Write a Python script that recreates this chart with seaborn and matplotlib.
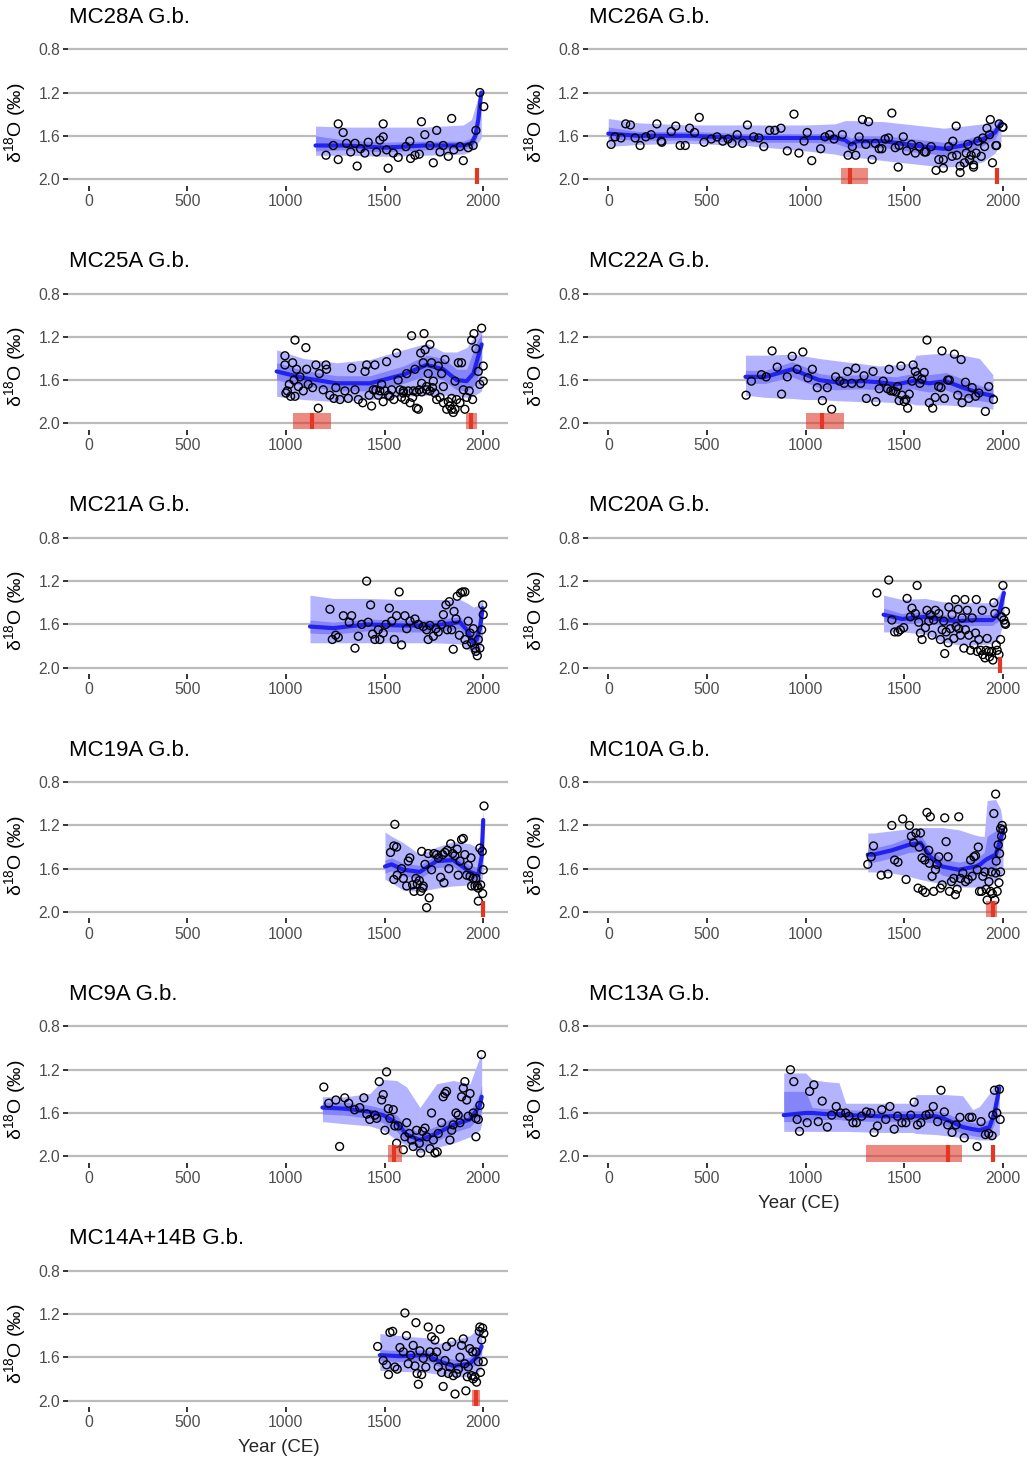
import matplotlib
matplotlib.use("Agg")
import matplotlib.pyplot as plt
import seaborn as sns
import pandas as pd

# ---------------- data ----------------
# MC28A
mc28a_year = [1203, 1240, 1265, 1265, 1290, 1307, 1328, 1350, 1361, 1378, 1400, 1417, 1459, 1476, 1493, 1493,
              1510, 1518, 1544, 1569, 1608, 1628, 1632, 1654, 1676, 1687, 1704, 1730, 1747, 1764, 1781, 1797,
              1823, 1840, 1851, 1882, 1899, 1924, 1949, 1963, 1983, 2003]
mc28a_d18o = [1.78, 1.69, 1.49, 1.82, 1.57, 1.67, 1.75, 1.67, 1.88, 1.72, 1.76, 1.66, 1.75, 1.64, 1.61, 1.49,
              1.73, 1.90, 1.76, 1.80, 1.70, 1.65, 1.81, 1.78, 1.77, 1.47, 1.59, 1.69, 1.85, 1.55, 1.75, 1.69,
              1.79, 1.44, 1.73, 1.70, 1.83, 1.71, 1.69, 1.55, 1.20, 1.33]
mc28a_fit_year = [1150, 1300, 1500, 1700, 1900, 1940, 1960, 1975, 1990]
mc28a_fit = [1.69, 1.69, 1.71, 1.69, 1.69, 1.67, 1.60, 1.45, 1.20]
mc28a_outer_top = [1.51, 1.52, 1.52, 1.52, 1.50, 1.45, 1.33, 1.24, 1.18]
mc28a_outer_bot = [1.78, 1.78, 1.79, 1.78, 1.77, 1.74, 1.70, 1.66, 1.62]
mc28a_inner_top = [1.60, 1.64, 1.66, 1.65, 1.65, 1.62, 1.52, 1.36, 1.19]
mc28a_inner_bot = [1.74, 1.73, 1.75, 1.73, 1.72, 1.71, 1.66, 1.55, 1.30]
mc28a_age_lo = [1963]
mc28a_age_hi = [1977]
mc28a_age_mid = [1970]

# MC26A
mc26a_year = [14, 34, 64, 88, 112, 136, 161, 190, 217, 246, 268, 271, 319, 342, 364, 390, 412, 437, 461, 485,
              522, 551, 580, 607, 627, 653, 681, 705, 737, 763, 788, 817, 844, 875, 907, 941, 966, 992, 1008,
              1031, 1076, 1098, 1122, 1144, 1186, 1215, 1237, 1254, 1271, 1288, 1305, 1319, 1337, 1353, 1373,
              1386, 1403, 1420, 1437, 1454, 1469, 1474, 1495, 1512, 1537, 1556, 1576, 1602, 1610, 1636, 1661,
              1675, 1698, 1698, 1725, 1742, 1746, 1763, 1766, 1783, 1783, 1805, 1814, 1822, 1831, 1839, 1851,
              1851, 1864, 1873, 1890, 1898, 1907, 1919, 1932, 1936, 1947, 1964, 1968, 1981, 1998, 2000]
mc26a_d18o = [1.68, 1.61, 1.62, 1.49, 1.50, 1.62, 1.69, 1.61, 1.59, 1.49, 1.65, 1.66, 1.56, 1.51, 1.69, 1.69,
              1.53, 1.57, 1.43, 1.66, 1.63, 1.61, 1.65, 1.63, 1.67, 1.59, 1.67, 1.50, 1.61, 1.62, 1.70, 1.55,
              1.55, 1.53, 1.74, 1.40, 1.76, 1.65, 1.57, 1.83, 1.72, 1.61, 1.59, 1.63, 1.59, 1.78, 1.70, 1.78,
              1.61, 1.45, 1.68, 1.47, 1.82, 1.67, 1.72, 1.72, 1.63, 1.62, 1.39, 1.71, 1.89, 1.69, 1.61, 1.74,
              1.68, 1.76, 1.70, 1.75, 1.75, 1.70, 1.92, 1.82, 1.90, 1.82, 1.70, 1.79, 1.65, 1.51, 1.78, 1.94,
              1.88, 1.85, 1.76, 1.68, 1.82, 1.78, 1.89, 1.87, 1.76, 1.65, 1.79, 1.62, 1.70, 1.53, 1.59, 1.45,
              1.85, 1.69, 1.69, 1.49, 1.52, 1.52]
mc26a_fit_year = [0, 150, 400, 700, 1000, 1150, 1200, 1230, 1260, 1400, 1550, 1700, 1800, 1900, 1960, 1990]
mc26a_fit = [1.58, 1.60, 1.60, 1.62, 1.62, 1.62, 1.64, 1.68, 1.65, 1.65, 1.69, 1.72, 1.69, 1.63, 1.57, 1.48]
mc26a_outer_top = [1.44, 1.48, 1.50, 1.50, 1.50, 1.49, 1.46, 1.46, 1.46, 1.47, 1.50, 1.53, 1.51, 1.49, 1.46, 1.44]
mc26a_outer_bot = [1.70, 1.68, 1.67, 1.69, 1.74, 1.77, 1.79, 1.80, 1.80, 1.83, 1.86, 1.89, 1.88, 1.84, 1.76, 1.66]
mc26a_inner_top = [1.52, 1.56, 1.56, 1.58, 1.58, 1.58, 1.59, 1.62, 1.60, 1.60, 1.63, 1.66, 1.64, 1.58, 1.52, 1.45]
mc26a_inner_bot = [1.63, 1.64, 1.64, 1.66, 1.66, 1.67, 1.70, 1.73, 1.71, 1.71, 1.75, 1.78, 1.75, 1.69, 1.63, 1.52]
mc26a_age_lo = [1178, 1962]
mc26a_age_hi = [1315, 1976]
mc26a_age_mid = [1225, 1969]

# MC25A
mc25a_year = [995, 995, 1000, 1007, 1017, 1024, 1034, 1041, 1046, 1046, 1054, 1063, 1071, 1088, 1101, 1105,
              1113, 1135, 1152, 1164, 1169, 1189, 1203, 1206, 1223, 1243, 1253, 1274, 1299, 1316, 1333, 1350,
              1367, 1389, 1401, 1409, 1422, 1434, 1443, 1451, 1456, 1468, 1476, 1485, 1493, 1502, 1510, 1519,
              1527, 1536, 1547, 1561, 1569, 1578, 1586, 1595, 1595, 1603, 1612, 1620, 1629, 1637, 1642, 1646,
              1654, 1662, 1662, 1671, 1676, 1683, 1688, 1688, 1696, 1700, 1705, 1713, 1713, 1721, 1730, 1730,
              1738, 1743, 1747, 1755, 1764, 1772, 1781, 1789, 1798, 1798, 1806, 1815, 1823, 1831, 1840, 1840,
              1848, 1857, 1857, 1865, 1874, 1882, 1890, 1899, 1907, 1916, 1929, 1941, 1946, 1953, 1963, 1975,
              1983, 1992, 2000, 2000]
mc25a_d18o = [1.375, 1.46, 1.72, 1.70, 1.64, 1.75, 1.44, 1.60, 1.23, 1.75, 1.50, 1.66, 1.57, 1.70, 1.30, 1.50,
              1.64, 1.67, 1.46, 1.86, 1.54, 1.69, 1.46, 1.50, 1.74, 1.77, 1.67, 1.78, 1.70, 1.77, 1.49, 1.69,
              1.78, 1.81, 1.52, 1.46, 1.74, 1.84, 1.69, 1.46, 1.69, 1.74, 1.70, 1.64, 1.80, 1.70, 1.43, 1.74,
              1.75, 1.69, 1.78, 1.35, 1.60, 1.69, 1.76, 1.70, 1.72, 1.78, 1.54, 1.70, 1.81, 1.19, 1.76, 1.70,
              1.50, 1.86, 1.71, 1.87, 1.69, 1.35, 1.63, 1.71, 1.44, 1.17, 1.32, 1.66, 1.69, 1.54, 1.27, 1.70,
              1.44, 1.67, 1.61, 1.72, 1.78, 1.47, 1.76, 1.54, 1.66, 1.81, 1.41, 1.87, 1.80, 1.84, 1.77, 1.87,
              1.90, 1.61, 1.87, 1.78, 1.44, 1.81, 1.44, 1.69, 1.87, 1.76, 1.70, 1.23, 1.78, 1.17, 1.31, 1.52,
              1.64, 1.12, 1.47, 1.61]
mc25a_fit_year = [953, 1088, 1257, 1426, 1595, 1713, 1798, 1865, 1916, 1950, 1975, 1992]
mc25a_fit = [1.52, 1.58, 1.63, 1.63, 1.55, 1.46, 1.50, 1.60, 1.61, 1.54, 1.38, 1.27]
mc25a_outer_top = [1.32, 1.40, 1.44, 1.41, 1.32, 1.26, 1.34, 1.34, 1.30, 1.21, 1.16, 1.14]
mc25a_outer_bot = [1.75, 1.78, 1.80, 1.78, 1.75, 1.74, 1.74, 1.75, 1.76, 1.75, 1.72, 1.70]
mc25a_inner_top = [1.44, 1.51, 1.56, 1.56, 1.47, 1.37, 1.40, 1.50, 1.50, 1.33, 1.22, 1.17]
mc25a_inner_bot = [1.60, 1.65, 1.70, 1.70, 1.63, 1.56, 1.60, 1.69, 1.70, 1.66, 1.56, 1.40]
mc25a_age_lo = [1034, 1911]
mc25a_age_hi = [1228, 1966]
mc25a_age_mid = [1130, 1936]

# MC22A
mc22a_year = [698, 725, 776, 800, 830, 856, 878, 907, 932, 957, 986, 1012, 1034, 1059, 1085, 1110, 1132, 1152,
              1173, 1195, 1212, 1234, 1254, 1279, 1296, 1308, 1342, 1356, 1373, 1393, 1415, 1423, 1432, 1444,
              1457, 1466, 1474, 1483, 1488, 1500, 1508, 1517, 1525, 1539, 1545, 1556, 1567, 1579, 1589, 1601,
              1615, 1627, 1644, 1657, 1674, 1686, 1691, 1703, 1720, 1728, 1754, 1771, 1788, 1793, 1810, 1827,
              1844, 1861, 1878, 1911, 1928, 1952]
mc22a_d18o = [1.74, 1.61, 1.55, 1.57, 1.33, 1.48, 1.73, 1.57, 1.38, 1.50, 1.34, 1.58, 1.50, 1.67, 1.79, 1.67,
              1.87, 1.57, 1.61, 1.63, 1.52, 1.63, 1.49, 1.63, 1.56, 1.77, 1.52, 1.80, 1.68, 1.61, 1.68, 1.50,
              1.70, 1.70, 1.71, 1.66, 1.79, 1.47, 1.74, 1.80, 1.78, 1.86, 1.73, 1.61, 1.46, 1.52, 1.56, 1.63,
              1.59, 1.53, 1.23, 1.81, 1.86, 1.76, 1.66, 1.67, 1.33, 1.77, 1.60, 1.60, 1.36, 1.74, 1.41, 1.81,
              1.62, 1.77, 1.67, 1.75, 1.72, 1.89, 1.66, 1.78]
mc22a_fit_year = [695, 796, 932, 1000, 1068, 1152, 1288, 1373, 1457, 1542, 1560, 1627, 1711, 1796, 1881, 1949]
mc22a_fit = [1.57, 1.57, 1.50, 1.55, 1.60, 1.62, 1.61, 1.62, 1.64, 1.61, 1.61, 1.63, 1.61, 1.67, 1.72, 1.745]
mc22a_outer_top = [1.37, 1.37, 1.36, 1.38, 1.40, 1.42, 1.45, 1.47, 1.46, 1.44, 1.37, 1.36, 1.35, 1.37, 1.40, 1.55]
mc22a_outer_bot = [1.74, 1.76, 1.77, 1.78, 1.78, 1.79, 1.80, 1.80, 1.81, 1.82, 1.83, 1.83, 1.83, 1.84, 1.85, 1.87]
mc22a_inner_top = [1.51, 1.51, 1.43, 1.48, 1.54, 1.56, 1.55, 1.56, 1.57, 1.54, 1.53, 1.55, 1.53, 1.59, 1.65, 1.68]
mc22a_inner_bot = [1.63, 1.63, 1.57, 1.62, 1.67, 1.69, 1.68, 1.69, 1.71, 1.68, 1.69, 1.71, 1.69, 1.75, 1.79, 1.81]
mc22a_age_lo = [1003]
mc22a_age_hi = [1195]
mc22a_age_mid = [1081]

# MC21A
mc21a_year = [1223, 1235, 1252, 1265, 1291, 1321, 1333, 1350, 1367, 1384, 1409, 1417, 1429, 1439, 1451, 1468,
              1476, 1493, 1507, 1524, 1536, 1549, 1561, 1574, 1586, 1603, 1612, 1629, 1654, 1671, 1696, 1713,
              1721, 1730, 1747, 1760, 1772, 1789, 1798, 1811, 1818, 1828, 1840, 1848, 1852, 1862, 1868, 1879,
              1885, 1895, 1907, 1907, 1916, 1924, 1933, 1941, 1950, 1958, 1963, 1970, 1975, 1983, 1992, 1997,
              2000]
mc21a_d18o = [1.46, 1.74, 1.70, 1.72, 1.52, 1.58, 1.52, 1.82, 1.71, 1.60, 1.20, 1.58, 1.42, 1.69, 1.74, 1.65,
              1.74, 1.68, 1.60, 1.45, 1.57, 1.74, 1.52, 1.30, 1.79, 1.52, 1.64, 1.57, 1.55, 1.60, 1.62, 1.65,
              1.74, 1.61, 1.71, 1.64, 1.67, 1.60, 1.51, 1.42, 1.65, 1.39, 1.65, 1.83, 1.48, 1.55, 1.34, 1.70,
              1.31, 1.30, 1.74, 1.30, 1.79, 1.57, 1.68, 1.77, 1.64, 1.82, 1.85, 1.89, 1.74, 1.82, 1.65, 1.42,
              1.51]
mc21a_fit_year = [1122, 1240, 1409, 1578, 1747, 1882, 1916, 1950, 1966, 1983, 1997]
mc21a_fit = [1.62, 1.635, 1.60, 1.61, 1.61, 1.58, 1.65, 1.77, 1.74, 1.64, 1.45]
mc21a_outer_top = [1.33, 1.36, 1.36, 1.37, 1.37, 1.37, 1.40, 1.44, 1.43, 1.40, 1.38]
mc21a_outer_bot = [1.77, 1.77, 1.77, 1.77, 1.77, 1.78, 1.82, 1.88, 1.89, 1.86, 1.72]
mc21a_inner_top = [1.56, 1.58, 1.55, 1.56, 1.56, 1.53, 1.59, 1.69, 1.66, 1.56, 1.38]
mc21a_inner_bot = [1.68, 1.69, 1.66, 1.67, 1.67, 1.64, 1.71, 1.84, 1.82, 1.72, 1.55]
mc21a_age_lo = []
mc21a_age_hi = []
mc21a_age_mid = []

# MC20A
mc20a_year = [1361, 1421, 1437, 1451, 1468, 1480, 1497, 1514, 1531, 1539, 1556, 1565, 1573, 1582, 1590, 1607,
              1615, 1624, 1632, 1641, 1649, 1658, 1675, 1683, 1692, 1700, 1705, 1712, 1722, 1726, 1734, 1742,
              1751, 1759, 1763, 1773, 1776, 1785, 1793, 1802, 1807, 1810, 1819, 1827, 1836, 1844, 1853, 1861,
              1865, 1870, 1878, 1887, 1895, 1898, 1909, 1915, 1920, 1929, 1932, 1942, 1949, 1954, 1959, 1966,
              1971, 1980, 1988, 1993, 2000, 2005, 2010, 2013, 2013]
mc20a_d18o = [1.31, 1.19, 1.56, 1.67, 1.67, 1.65, 1.63, 1.36, 1.53, 1.45, 1.50, 1.24, 1.58, 1.68, 1.74, 1.63,
              1.47, 1.57, 1.51, 1.70, 1.56, 1.47, 1.50, 1.74, 1.65, 1.57, 1.87, 1.67, 1.77, 1.44, 1.64, 1.51,
              1.73, 1.37, 1.62, 1.46, 1.64, 1.70, 1.54, 1.82, 1.37, 1.65, 1.47, 1.70, 1.84, 1.54, 1.79, 1.68,
              1.37, 1.85, 1.74, 1.84, 1.47, 1.88, 1.91, 1.84, 1.73, 1.85, 1.90, 1.85, 1.93, 1.40, 1.50, 1.79,
              1.84, 1.88, 1.74, 1.53, 1.24, 1.56, 1.59, 1.48, 1.60]
mc20a_fit_year = [1395, 1488, 1607, 1692, 1776, 1861, 1946, 1980, 2005]
mc20a_fit = [1.51, 1.55, 1.53, 1.56, 1.57, 1.56, 1.56, 1.50, 1.31]
mc20a_outer_top = [1.33, 1.37, 1.36, 1.39, 1.40, 1.40, 1.40, 1.33, 1.24]
mc20a_outer_bot = [1.67, 1.67, 1.69, 1.76, 1.79, 1.79, 1.78, 1.72, 1.58]
mc20a_inner_top = [1.45, 1.50, 1.48, 1.51, 1.52, 1.51, 1.51, 1.43, 1.27]
mc20a_inner_bot = [1.57, 1.60, 1.58, 1.61, 1.62, 1.61, 1.61, 1.57, 1.40]
mc20a_age_lo = [1977]
mc20a_age_hi = [1990]
mc20a_age_mid = [1983]

# MC19A
mc19a_year = [1530, 1547, 1552, 1561, 1547, 1564, 1586, 1595, 1612, 1620, 1628, 1642, 1649, 1659, 1666, 1676,
              1683, 1688, 1693, 1696, 1705, 1713, 1721, 1726, 1738, 1750, 1764, 1772, 1784, 1794, 1801, 1806,
              1818, 1826, 1835, 1845, 1856, 1868, 1873, 1882, 1890, 1899, 1907, 1916, 1924, 1933, 1938, 1941,
              1949, 1958, 1963, 1970, 1975, 1975, 1983, 1987, 1995, 1997, 2000, 2004]
mc19a_d18o = [1.45, 1.39, 1.19, 1.40, 1.70, 1.66, 1.60, 1.69, 1.76, 1.53, 1.50, 1.75, 1.81, 1.69, 1.74, 1.71,
              1.81, 1.44, 1.78, 1.76, 1.56, 1.96, 1.46, 1.87, 1.61, 1.46, 1.47, 1.50, 1.68, 1.47, 1.73, 1.45,
              1.43, 1.60, 1.37, 1.46, 1.48, 1.42, 1.66, 1.53, 1.33, 1.32, 1.47, 1.66, 1.57, 1.67, 1.50, 1.76,
              1.69, 1.76, 1.69, 1.76, 1.78, 1.90, 1.41, 1.75, 1.44, 1.83, 1.61, 1.02]
mc19a_fit_year = [1502, 1535, 1595, 1679, 1764, 1848, 1933, 1975, 1992, 2000]
mc19a_fit = [1.58, 1.56, 1.61, 1.63, 1.53, 1.52, 1.63, 1.66, 1.49, 1.15]
mc19a_outer_top = [1.26, 1.30, 1.36, 1.47, 1.40, 1.35, 1.37, 1.41, 1.25, 1.06]
mc19a_outer_bot = [1.70, 1.73, 1.80, 1.81, 1.78, 1.76, 1.75, 1.77, 1.72, 1.62]
mc19a_inner_top = [1.52, 1.50, 1.55, 1.57, 1.47, 1.46, 1.57, 1.59, 1.38, 1.10]
mc19a_inner_bot = [1.64, 1.62, 1.67, 1.69, 1.59, 1.58, 1.69, 1.72, 1.60, 1.25]
mc19a_age_lo = [1991]
mc19a_age_hi = [2003]
mc19a_age_mid = [1997]

# MC10A
mc10a_year = [1315, 1332, 1344, 1383, 1417, 1437, 1451, 1468, 1492, 1509, 1526, 1536, 1548, 1559, 1570, 1576,
              1582, 1590, 1593, 1604, 1607, 1615, 1624, 1627, 1632, 1641, 1649, 1658, 1666, 1675, 1683, 1692,
              1705, 1712, 1722, 1729, 1739, 1751, 1759, 1768, 1776, 1785, 1797, 1810, 1824, 1836, 1844, 1853,
              1861, 1870, 1875, 1881, 1892, 1898, 1909, 1915, 1920, 1929, 1937, 1942, 1946, 1954, 1959, 1963,
              1963, 1966, 1971, 1976, 1980, 1983, 1988, 1988, 1993, 1996, 2000]
mc10a_d18o = [1.56, 1.49, 1.39, 1.66, 1.65, 1.20, 1.52, 1.54, 1.14, 1.70, 1.20, 1.30, 1.36, 1.27, 1.78, 1.40,
              1.27, 1.50, 1.80, 1.52, 1.82, 1.08, 1.43, 1.55, 1.12, 1.67, 1.81, 1.61, 1.56, 1.49, 1.78, 1.75,
              1.13, 1.35, 1.49, 1.81, 1.72, 1.69, 1.84, 1.79, 1.12, 1.69, 1.64, 1.72, 1.70, 1.52, 1.67, 1.49,
              1.48, 1.61, 1.40, 1.81, 1.81, 1.67, 1.63, 1.79, 1.89, 1.72, 1.81, 1.63, 1.83, 1.09, 1.89, 0.91,
              1.64, 1.53, 1.81, 1.38, 1.73, 1.46, 1.23, 1.63, 1.30, 1.20, 1.24]
mc10a_fit_year = [1315, 1344, 1437, 1522, 1582, 1632, 1692, 1776, 1861, 1885, 1905, 1920, 1963, 1988, 2000]
mc10a_fit = [1.47, 1.47, 1.43, 1.38, 1.36, 1.49, 1.58, 1.61, 1.58, 1.56, 1.53, 1.51, 1.47, 1.33, 1.25]
mc10a_outer_top = [1.27, 1.27, 1.25, 1.23, 1.22, 1.22, 1.22, 1.24, 1.29, 1.30, 1.30, 0.97, 0.96, 1.05, 1.20]
mc10a_outer_bot = [1.63, 1.63, 1.64, 1.67, 1.70, 1.72, 1.74, 1.77, 1.77, 1.77, 1.77, 1.76, 1.72, 1.68, 1.62]
mc10a_inner_top = [1.41, 1.41, 1.37, 1.31, 1.29, 1.42, 1.51, 1.54, 1.51, 1.48, 1.45, 1.30, 1.25, 1.22, 1.22]
mc10a_inner_bot = [1.54, 1.54, 1.50, 1.45, 1.44, 1.57, 1.66, 1.69, 1.66, 1.64, 1.62, 1.62, 1.60, 1.46, 1.34]
mc10a_age_lo = [1912]
mc10a_age_hi = [1971]
mc10a_age_mid = [1949]

# MC9A
mc9a_year = [1192, 1217, 1253, 1272, 1298, 1318, 1348, 1374, 1395, 1410, 1425, 1451, 1460, 1473, 1485, 1493,
             1502, 1510, 1519, 1527, 1544, 1552, 1561, 1569, 1595, 1603, 1612, 1625, 1637, 1645, 1662, 1676,
             1683, 1693, 1705, 1713, 1730, 1738, 1747, 1755, 1767, 1772, 1789, 1797, 1806, 1814, 1831, 1840,
             1848, 1862, 1873, 1882, 1890, 1899, 1907, 1916, 1924, 1933, 1949, 1963, 1963, 1975, 1983, 1991]
mc9a_d18o = [1.36, 1.51, 1.48, 1.91, 1.46, 1.51, 1.57, 1.55, 1.46, 1.61, 1.66, 1.62, 1.65, 1.31, 1.48, 1.43,
             1.76, 1.22, 1.56, 1.65, 1.57, 1.72, 1.88, 1.72, 1.94, 1.82, 1.69, 1.79, 1.85, 1.91, 1.76, 1.88,
             1.97, 1.77, 1.74, 1.82, 1.93, 1.60, 1.85, 1.97, 1.96, 1.79, 1.69, 1.45, 1.42, 1.40, 1.85, 1.76,
             1.71, 1.60, 1.62, 1.69, 1.45, 1.37, 1.31, 1.48, 1.63, 1.42, 1.60, 1.65, 1.82, 1.66, 1.53, 1.06]
mc9a_fit_year = [1185, 1300, 1426, 1493, 1561, 1612, 1679, 1764, 1848, 1933, 1983, 1992]
mc9a_fit = [1.55, 1.56, 1.59, 1.62, 1.69, 1.80, 1.85, 1.79, 1.71, 1.66, 1.53, 1.45]
mc9a_outer_top = [1.45, 1.45, 1.42, 1.29, 1.30, 1.36, 1.55, 1.33, 1.30, 1.33, 1.08, 1.05]
mc9a_outer_bot = [1.68, 1.70, 1.72, 1.76, 1.85, 1.90, 1.97, 1.92, 1.88, 1.82, 1.76, 1.70]
mc9a_inner_top = [1.50, 1.50, 1.53, 1.56, 1.62, 1.73, 1.78, 1.72, 1.64, 1.59, 1.42, 1.35]
mc9a_inner_bot = [1.61, 1.62, 1.65, 1.69, 1.77, 1.87, 1.92, 1.86, 1.78, 1.73, 1.63, 1.58]
mc9a_age_lo = [1519]
mc9a_age_hi = [1586]
mc9a_age_mid = [1548]

# MC13A
mc13a_year = [923, 940, 957, 969, 1008, 1020, 1042, 1064, 1084, 1110, 1132, 1155, 1177, 1203, 1220, 1240,
              1257, 1284, 1308, 1330, 1347, 1364, 1386, 1406, 1427, 1449, 1466, 1488, 1508, 1533, 1550, 1567,
              1584, 1610, 1627, 1647, 1669, 1686, 1703, 1720, 1742, 1762, 1782, 1804, 1830, 1843, 1869, 1889,
              1911, 1928, 1945, 1949, 1957, 1969, 1982, 1986]
mc13a_d18o = [1.20, 1.31, 1.66, 1.77, 1.69, 1.40, 1.34, 1.68, 1.49, 1.73, 1.62, 1.54, 1.60, 1.60, 1.63, 1.69,
              1.69, 1.63, 1.59, 1.60, 1.78, 1.72, 1.57, 1.66, 1.54, 1.75, 1.63, 1.69, 1.69, 1.62, 1.50, 1.71,
              1.69, 1.62, 1.61, 1.54, 1.68, 1.39, 1.59, 1.71, 1.78, 1.71, 1.64, 1.83, 1.64, 1.64, 1.91, 1.68,
              1.80, 1.79, 1.81, 1.62, 1.39, 1.60, 1.38, 1.66]
mc13a_fit_year = [889, 1000, 1033, 1100, 1169, 1203, 1372, 1542, 1560, 1660, 1711, 1796, 1847, 1881, 1932, 1957, 1982]
mc13a_fit = [1.62, 1.60, 1.60, 1.61, 1.61, 1.62, 1.63, 1.63, 1.63, 1.63, 1.66, 1.73, 1.75, 1.76, 1.73, 1.60, 1.37]
mc13a_outer_top = [1.23, 1.23, 1.29, 1.31, 1.32, 1.51, 1.51, 1.51, 1.43, 1.43, 1.43, 1.44, 1.57, 1.54, 1.42, 1.34, 1.34]
mc13a_outer_bot = [1.77, 1.77, 1.77, 1.77, 1.77, 1.77, 1.78, 1.78, 1.79, 1.80, 1.81, 1.83, 1.84, 1.85, 1.85, 1.83, 1.80]
mc13a_inner_top = [1.40, 1.40, 1.55, 1.56, 1.56, 1.57, 1.58, 1.58, 1.58, 1.58, 1.60, 1.67, 1.69, 1.70, 1.66, 1.50, 1.33]
mc13a_inner_bot = [1.68, 1.68, 1.66, 1.66, 1.66, 1.67, 1.68, 1.68, 1.68, 1.69, 1.72, 1.79, 1.81, 1.82, 1.80, 1.70, 1.45]
mc13a_age_lo = [1305, 1946]
mc13a_age_hi = [1793, 1958]
mc13a_age_mid = [1720, 1952]

# MC14A+14B
mc14_year = [1465, 1493, 1510, 1520, 1527, 1541, 1552, 1564, 1578, 1595, 1603, 1611, 1620, 1632, 1645, 1654,
             1659, 1665, 1671, 1679, 1688, 1696, 1709, 1721, 1730, 1738, 1747, 1755, 1764, 1772, 1781, 1789,
             1797, 1806, 1814, 1823, 1831, 1840, 1848, 1857, 1865, 1874, 1882, 1890, 1899, 1907, 1912, 1919,
             1924, 1932, 1941, 1946, 1949, 1958, 1963, 1966, 1975, 1980, 1983, 1986, 1992, 1997, 2000, 2003]
mc14_d18o = [1.50, 1.63, 1.67, 1.76, 1.37, 1.36, 1.69, 1.71, 1.51, 1.55, 1.19, 1.40, 1.66, 1.58, 1.49, 1.68,
             1.28, 1.75, 1.85, 1.54, 1.76, 1.61, 1.69, 1.32, 1.55, 1.41, 1.60, 1.44, 1.55, 1.69, 1.34, 1.74,
             1.87, 1.63, 1.50, 1.75, 1.69, 1.46, 1.77, 1.94, 1.75, 1.71, 1.60, 1.49, 1.43, 1.66, 1.91, 1.78,
             1.69, 1.52, 1.77, 1.55, 1.80, 1.78, 1.55, 1.83, 1.64, 1.36, 1.32, 1.74, 1.44, 1.33, 1.64, 1.38]
mc14_fit_year = [1476, 1578, 1713, 1780, 1848, 1932, 1966, 1992]
mc14_fit = [1.58, 1.59, 1.58, 1.64, 1.68, 1.66, 1.60, 1.50]
mc14_outer_top = [1.38, 1.40, 1.42, 1.47, 1.44, 1.40, 1.35, 1.33]
mc14_outer_bot = [1.72, 1.73, 1.74, 1.76, 1.78, 1.78, 1.75, 1.70]
mc14_inner_top = [1.53, 1.54, 1.53, 1.58, 1.62, 1.60, 1.54, 1.43]
mc14_inner_bot = [1.63, 1.64, 1.63, 1.69, 1.73, 1.71, 1.66, 1.56]
mc14_age_lo = [1941]
mc14_age_hi = [1983]
mc14_age_mid = [1963]

titles = ["MC28A G.b.", "MC26A G.b.", "MC25A G.b.", "MC22A G.b.", "MC21A G.b.", "MC20A G.b.",
          "MC19A G.b.", "MC10A G.b.", "MC9A G.b.", "MC13A G.b.", "MC14A+14B G.b."]
x_ticks = [0, 500, 1000, 1500, 2000]
y_ticks = [0.8, 1.2, 1.6, 2.0]
y_ticklabels = ["0.8", "1.2", "1.6", "2.0"]

series = [
    (mc28a_year, mc28a_d18o, mc28a_fit_year, mc28a_fit, mc28a_outer_top, mc28a_outer_bot, mc28a_inner_top, mc28a_inner_bot, mc28a_age_lo, mc28a_age_hi, mc28a_age_mid),
    (mc26a_year, mc26a_d18o, mc26a_fit_year, mc26a_fit, mc26a_outer_top, mc26a_outer_bot, mc26a_inner_top, mc26a_inner_bot, mc26a_age_lo, mc26a_age_hi, mc26a_age_mid),
    (mc25a_year, mc25a_d18o, mc25a_fit_year, mc25a_fit, mc25a_outer_top, mc25a_outer_bot, mc25a_inner_top, mc25a_inner_bot, mc25a_age_lo, mc25a_age_hi, mc25a_age_mid),
    (mc22a_year, mc22a_d18o, mc22a_fit_year, mc22a_fit, mc22a_outer_top, mc22a_outer_bot, mc22a_inner_top, mc22a_inner_bot, mc22a_age_lo, mc22a_age_hi, mc22a_age_mid),
    (mc21a_year, mc21a_d18o, mc21a_fit_year, mc21a_fit, mc21a_outer_top, mc21a_outer_bot, mc21a_inner_top, mc21a_inner_bot, mc21a_age_lo, mc21a_age_hi, mc21a_age_mid),
    (mc20a_year, mc20a_d18o, mc20a_fit_year, mc20a_fit, mc20a_outer_top, mc20a_outer_bot, mc20a_inner_top, mc20a_inner_bot, mc20a_age_lo, mc20a_age_hi, mc20a_age_mid),
    (mc19a_year, mc19a_d18o, mc19a_fit_year, mc19a_fit, mc19a_outer_top, mc19a_outer_bot, mc19a_inner_top, mc19a_inner_bot, mc19a_age_lo, mc19a_age_hi, mc19a_age_mid),
    (mc10a_year, mc10a_d18o, mc10a_fit_year, mc10a_fit, mc10a_outer_top, mc10a_outer_bot, mc10a_inner_top, mc10a_inner_bot, mc10a_age_lo, mc10a_age_hi, mc10a_age_mid),
    (mc9a_year, mc9a_d18o, mc9a_fit_year, mc9a_fit, mc9a_outer_top, mc9a_outer_bot, mc9a_inner_top, mc9a_inner_bot, mc9a_age_lo, mc9a_age_hi, mc9a_age_mid),
    (mc13a_year, mc13a_d18o, mc13a_fit_year, mc13a_fit, mc13a_outer_top, mc13a_outer_bot, mc13a_inner_top, mc13a_inner_bot, mc13a_age_lo, mc13a_age_hi, mc13a_age_mid),
    (mc14_year, mc14_d18o, mc14_fit_year, mc14_fit, mc14_outer_top, mc14_outer_bot, mc14_inner_top, mc14_inner_bot, mc14_age_lo, mc14_age_hi, mc14_age_mid),
]

# ---------------- style ----------------
sns.set_style("white")
plt.rcParams["font.family"] = ["Liberation Sans", "DejaVu Sans"]
plt.rcParams["mathtext.fontset"] = "custom"
plt.rcParams["mathtext.rm"] = "Liberation Sans"
plt.rcParams["mathtext.it"] = "Liberation Sans:italic"
plt.rcParams["mathtext.default"] = "regular"

FIG_W, FIG_H = 1027, 1460
fig = plt.figure(figsize=(FIG_W / 100, FIG_H / 100), dpi=100)

GRID = "#BBBBBB"
OUTER = "#B3B3FF"
INNER = "#8585F7"
LINE = "#2222EE"
AGE_BOX = "#DD2A1A"
AGE_BAR = "#E43723"

AX_W, AX_H = 439.4, 142.7
ROW_STEP = 244.3


def axes_rect(col, row):
    left = 68.3 if col == 0 else 588.0
    top = 42.8 + ROW_STEP * row
    return [left / FIG_W, 1 - (top + AX_H) / FIG_H, AX_W / FIG_W, AX_H / FIG_H]


for i, (title, s) in enumerate(zip(titles, series)):
    yr, d, fy, fv, otop, obot, itop, ibot, alo, ahi, amid = s
    row, col = divmod(i, 2)
    ax = fig.add_axes(axes_rect(col, row))
    ax.set_xlim(-103, 2124)
    ax.set_ylim(2.06, 0.74)
    for v in y_ticks:
        ax.axhline(v, color=GRID, lw=1.6, zorder=0)
    ax.fill_between(fy, otop, obot, color=OUTER, lw=0, zorder=1)
    ax.fill_between(fy, itop, ibot, color=INNER, lw=0, zorder=2)
    sns.lineplot(x=fy, y=fv, ax=ax, color=LINE, lw=3, zorder=3)
    pts = pd.DataFrame({"year": yr, "d18o": d})
    sns.scatterplot(data=pts, x="year", y="d18o", ax=ax, s=32, marker="o",
                    facecolor="none", edgecolor="black", linewidth=1.0, zorder=4)
    for lo, hi, mid in zip(alo, ahi, amid):
        ax.fill_betweenx([1.90, 2.05], lo, hi, color=AGE_BOX, alpha=0.55, lw=0, zorder=5)
        ax.vlines(mid, 1.90, 2.05, color=AGE_BAR, lw=3, zorder=6)
    for sp in ax.spines.values():
        sp.set_visible(False)
    ax.set_xticks(x_ticks)
    ax.set_xticklabels([str(t) for t in x_ticks])
    ax.set_yticks(y_ticks)
    ax.set_yticklabels(y_ticklabels)
    ax.tick_params(axis="both", length=3.6, width=1.4, color="#333333",
                   labelcolor="#4D4D4D", labelsize=11.3, pad=2.3, bottom=True, left=True)
    ax.set_xlabel("")
    ax.set_ylabel("")
    ax.grid(False)
    ax.text(0.002, 162.8 / AX_H, title, transform=ax.transAxes, ha="left", va="baseline",
            fontsize=16, color="black")
    ax.text((15 - 68.3) / AX_W, (185.5 - 122.5) / AX_H, "δ$^{18}$O (‰)", transform=ax.transAxes,
            rotation=90, ha="center", va="center", fontsize=14, color="black")

fig.text(278.5 / FIG_W, 1 - 1447 / FIG_H, "Year (CE)", ha="center", va="center", fontsize=13.5)
fig.text(799 / FIG_W, 1 - 1203 / FIG_H, "Year (CE)", ha="center", va="center", fontsize=13.5)

fig.savefig("out.png", dpi=100)
